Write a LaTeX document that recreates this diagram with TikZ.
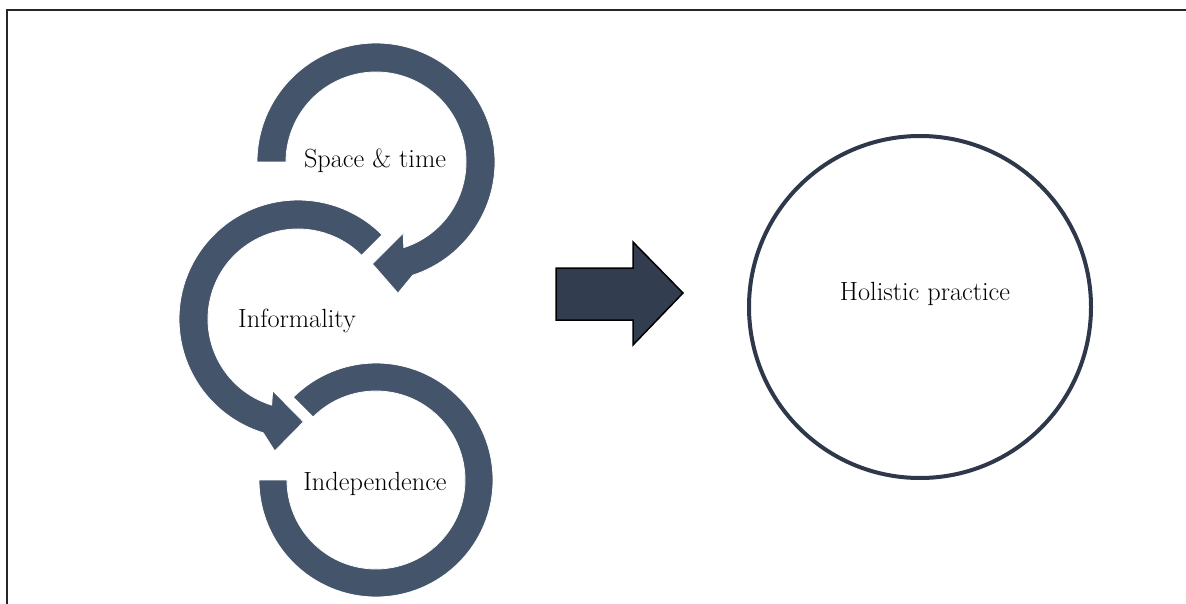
\documentclass[tikz,border=0pt]{standalone}
\usetikzlibrary{calc}
\definecolor{ringcol}{RGB}{68,84,106}
\definecolor{arrowcol}{RGB}{50,62,80}
\definecolor{circcol}{RGB}{46,56,74}
\begin{document}
\begin{tikzpicture}[x=1pt,y=1pt,
  ring/.style={fill=ringcol,draw=white,line width=0.8pt,line join=miter},
  lbl/.style={font=\fontsize{26.3}{30}\selectfont,anchor=base,inner sep=0pt},
  bigarrow/.style={fill=arrowcol,draw=black,line width=1.5pt,line join=miter},
  frameline/.style={draw=black!85,line width=2pt}]
\useasboundingbox (0,0) rectangle (1186,-604);
\draw[frameline] (7,-604) -- (7,-10) -- (1186,-10);
% centres
\coordinate (c1) at (376,-162);
\coordinate (c2) at (298,-319);
\coordinate (c3) at (376,-480);
% ring 1 (Space & time)
\path[ring] ([shift={(c1)}]180:119) arc[start angle=180,end angle=-72,radius=119]
  -- ([shift={(c1)}]-80.5:133) -- ([shift={(c1)}]-92:102) -- ([shift={(c1)}]-69:76)
  -- ([shift={(c1)}]-72:90) arc[start angle=-72,end angle=180,radius=90] -- cycle;
% ring 2 (Informality)
\path[ring] ([shift={(c2)}]45:119) arc[start angle=45,end angle=253,radius=119]
  -- ([shift={(c2)}]260:134) -- ([shift={(c2)}]273:103) -- ([shift={(c2)}]250.5:76)
  -- ([shift={(c2)}]253:90) arc[start angle=253,end angle=45,radius=90] -- cycle;
% ring 3 (Independence)
\path[ring] ([shift={(c3)}]180:117) arc[start angle=180,end angle=495,radius=117]
  -- ([shift={(c3)}]135:89) arc[start angle=135,end angle=-180,radius=89] -- cycle;
% labels
\node[lbl] (space) at (375,-168) {Space \& time};
\node[lbl] (informality) at (297,-327) {Informality};
\node[lbl] (independence) at (375,-490) {Independence};
% block arrow
\path[bigarrow] (556,-268) -- (633,-268) -- (633,-242) -- (683,-293)
  -- (633,-345) -- (633,-320) -- (556,-320) -- cycle;
% holistic circle
\node[circle,draw=circcol,line width=4pt,minimum size=342pt,inner sep=0pt] (holistic) at (920,-307) {};
\node[lbl] (holtext) at (925,-300) {Holistic practice};
\end{tikzpicture}
\end{document}
